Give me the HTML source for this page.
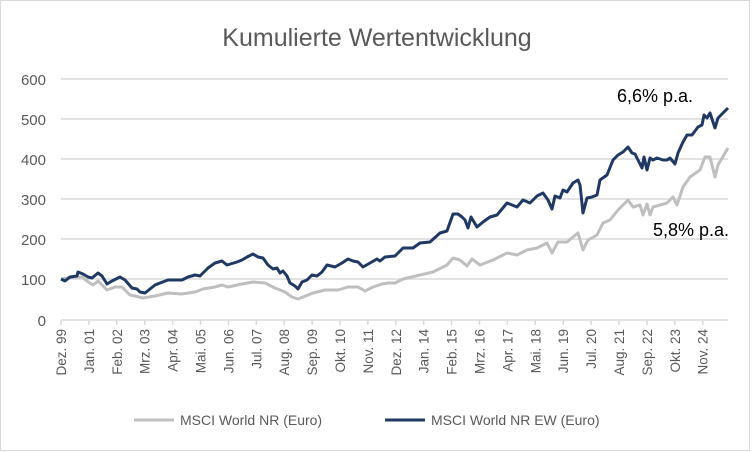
<!DOCTYPE html>
<html><head><meta charset="utf-8"><style>
body{margin:0;background:#fff;}
svg{display:block;font-family:"Liberation Sans",sans-serif;}
</style></head><body>
<svg width="754" height="452" viewBox="0 0 754 452" xmlns="http://www.w3.org/2000/svg">
<rect x="0.5" y="0.5" width="749" height="450" fill="#fff" stroke="#d9d9d9"/>
<text x="377" y="46" text-anchor="middle" font-size="25" fill="#595959">Kumulierte Wertentwicklung</text>
<g stroke="#d9d9d9" stroke-width="1.5">
<line x1="61" y1="79" x2="728" y2="79"/><line x1="61" y1="119" x2="728" y2="119"/>
<line x1="61" y1="159" x2="728" y2="159"/><line x1="61" y1="199" x2="728" y2="199"/>
<line x1="61" y1="239" x2="728" y2="239"/><line x1="61" y1="279" x2="728" y2="279"/>
<line x1="61" y1="320" x2="728" y2="320"/>
</g>
<g font-size="15" fill="#595959" text-anchor="end">
<text x="46" y="85">600</text><text x="46" y="125">500</text><text x="46" y="165">400</text>
<text x="46" y="205">300</text><text x="46" y="245">200</text><text x="46" y="285">100</text><text x="46" y="326">0</text>
</g>
<path stroke="#d9d9d9" stroke-width="1.5" d="M61 320v5M88.9 320v5M116.8 320v5M144.7 320v5M172.6 320v5M200.5 320v5M228.4 320v5M256.3 320v5M284.2 320v5M312.1 320v5M340 320v5M367.9 320v5M395.8 320v5M423.7 320v5M451.6 320v5M479.5 320v5M507.4 320v5M535.3 320v5M563.2 320v5M591.1 320v5M619 320v5M646.9 320v5M674.8 320v5M702.7 320v5"/>
<g font-size="13.5" fill="#595959" text-anchor="end">
<text transform="translate(66,329) rotate(-90)">Dez. 99</text>
<text transform="translate(93.9,329) rotate(-90)">Jan. 01</text>
<text transform="translate(121.8,329) rotate(-90)">Feb. 02</text>
<text transform="translate(149.7,329) rotate(-90)">Mrz. 03</text>
<text transform="translate(177.6,329) rotate(-90)">Apr. 04</text>
<text transform="translate(205.5,329) rotate(-90)">Mai. 05</text>
<text transform="translate(233.4,329) rotate(-90)">Jun. 06</text>
<text transform="translate(261.3,329) rotate(-90)">Jul. 07</text>
<text transform="translate(289.2,329) rotate(-90)">Aug. 08</text>
<text transform="translate(317.1,329) rotate(-90)">Sep. 09</text>
<text transform="translate(345,329) rotate(-90)">Okt. 10</text>
<text transform="translate(372.9,329) rotate(-90)">Nov. 11</text>
<text transform="translate(400.8,329) rotate(-90)">Dez. 12</text>
<text transform="translate(428.7,329) rotate(-90)">Jan. 14</text>
<text transform="translate(456.6,329) rotate(-90)">Feb. 15</text>
<text transform="translate(484.5,329) rotate(-90)">Mrz. 16</text>
<text transform="translate(512.4,329) rotate(-90)">Apr. 17</text>
<text transform="translate(540.3,329) rotate(-90)">Mai. 18</text>
<text transform="translate(568.2,329) rotate(-90)">Jun. 19</text>
<text transform="translate(596.1,329) rotate(-90)">Jul. 20</text>
<text transform="translate(624,329) rotate(-90)">Aug. 21</text>
<text transform="translate(651.9,329) rotate(-90)">Sep. 22</text>
<text transform="translate(679.8,329) rotate(-90)">Okt. 23</text>
<text transform="translate(707.7,329) rotate(-90)">Nov. 24</text>
</g>
<polyline fill="none" stroke="#bfbfbf" stroke-width="3" stroke-linejoin="round" points="61,279 75,277 82,277 87,281 93,285 98,281 107,290 115,287 122,287 130,295 135,296 143,298 155,296 168,293 182,294 195,292 203,289 215,287 222,285 228,287 242,284 253,282 265,283 275,288 285,292 292,297 298,299 303,297 313,293 325,290 338,290 348,287 358,287 365,291 373,287 382,284 388,283 395,283 403,279 420,275 433,272 447,265 453,258 460,260 467,266 472,259 480,265 493,260 507,253 517,255 527,250 537,248 547,243 552,253 558,242 567,242 578,233 583,250 588,240 597,235 603,223 610,220 618,210 628,200 633,207 640,205 643,215 647,204 650,215 653,207 667,203 673,197 677,205 683,187 690,177 700,170 705,157 710,157 715,177 718,165 728,148"/>
<polyline fill="none" stroke="#1f3864" stroke-width="3" stroke-linejoin="round" points="61,279 65,281 70,277 77,276 78,272 83,274 88,277 92,278 98,273 102,276 107,284 112,281 120,277 125,280 132,288 137,289 140,292 145,293 155,285 160,283 168,280 182,280 188,277 195,275 200,276 208,268 215,263 222,261 227,265 237,262 242,260 247,257 253,254 258,257 263,258 268,265 273,269 277,268 280,273 283,271 287,276 290,283 295,286 298,289 302,282 307,280 312,275 317,276 322,272 327,265 335,267 342,263 348,259 353,261 358,262 363,267 370,263 377,259 380,261 385,257 395,256 403,248 407,248 413,248 420,243 430,242 440,233 447,231 453,214 458,214 462,217 465,220 468,228 471,217 477,227 483,222 490,217 497,215 507,203 517,207 523,200 530,203 537,196 543,193 548,200 552,209 555,196 560,198 563,190 567,192 573,183 578,180 580,185 583,213 587,198 592,197 597,195 600,180 607,175 613,160 618,155 623,152 628,147 632,153 635,154 638,160 642,168 644,157 647,170 650,158 653,160 657,158 663,160 667,160 670,158 675,164 678,153 683,142 687,135 692,135 698,127 702,125 704,115 707,118 710,113 715,128 718,118 723,113 728,108"/>
<text x="617" y="102" font-size="18" fill="#000">6,6% p.a.</text>
<text x="653" y="236" font-size="18" fill="#000">5,8% p.a.</text>
<line x1="134" y1="420" x2="174" y2="420" stroke="#bfbfbf" stroke-width="3"/>
<text x="180" y="425" font-size="14" fill="#595959">MSCI World NR (Euro)</text>
<line x1="385" y1="420" x2="425" y2="420" stroke="#1f3864" stroke-width="3"/>
<text x="431" y="425" font-size="14" fill="#595959">MSCI World NR EW (Euro)</text>
</svg>
</body></html>
